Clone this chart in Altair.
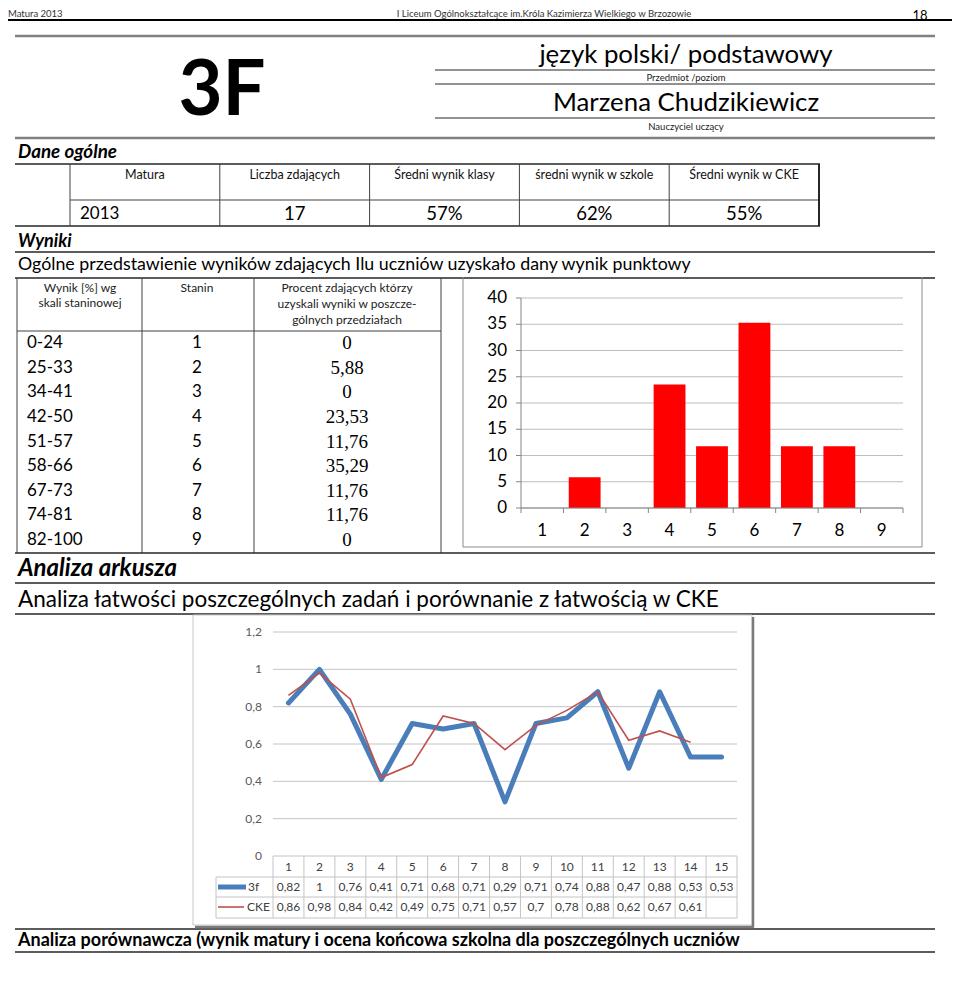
import altair as alt
import pandas as pd

# ---------------------------------------------------------------- canvas
W, H = 944, 972          # drawing area (page is 960 wide, 8px body margin)
OX, OY = 8, 8


def px(v):
    return v - OX


def py(v):
    return v - OY


FONT = "Lato"
SERIF = "Liberation Serif"

# ---------------------------------------------------------------- data
summary_headers = ["Matura", "Liczba zdających", "Średni wynik klasy",
                   "średni wynik w szkole", "Średni wynik w CKE"]
summary_values = ["2013", "17", "57%", "62%", "55%"]

stanine_ranges = ["0-24", "25-33", "34-41", "42-50", "51-57",
                  "58-66", "67-73", "74-81", "82-100"]
stanines = [1, 2, 3, 4, 5, 6, 7, 8, 9]
stanine_percent = [0, 5.88, 0, 23.53, 11.76, 35.29, 11.76, 11.76, 0]
bar_y_ticks = [0, 5, 10, 15, 20, 25, 30, 35, 40]

tasks = [1, 2, 3, 4, 5, 6, 7, 8, 9, 10, 11, 12, 13, 14, 15]
easiness_3f = [0.82, 1, 0.76, 0.41, 0.71, 0.68, 0.71, 0.29, 0.71, 0.74,
               0.88, 0.47, 0.88, 0.53, 0.53]
easiness_cke = [0.86, 0.98, 0.84, 0.42, 0.49, 0.75, 0.71, 0.57, 0.7, 0.78,
                0.88, 0.62, 0.67, 0.61, None]
line_y_ticks = [0, 0.2, 0.4, 0.6, 0.8, 1.0, 1.2]


def pl(v):
    """Polish decimal notation."""
    return f"{v:g}".replace(".", ",")


# ---------------------------------------------------------------- helpers
def segs_layer(rows):
    df = pd.DataFrame(rows, columns=["x", "x2", "y", "y2", "color", "w"])
    for c in ["x", "x2"]:
        df[c] = df[c].map(px)
    for c in ["y", "y2"]:
        df[c] = df[c].map(py)
    return alt.Chart(df).mark_rule().encode(
        x=alt.X("x:Q", scale=None, axis=None), x2="x2:Q",
        y=alt.Y("y:Q", scale=None, axis=None), y2="y2:Q",
        color=alt.Color("color:N", scale=None, legend=None),
        strokeWidth=alt.StrokeWidth("w:Q", scale=None, legend=None),
    )


def text_layer(rows, font=FONT, weight="normal", style="normal", align="left"):
    df = pd.DataFrame(rows, columns=["text", "x", "y", "size", "color"])
    df["x"] = df["x"].map(px)
    df["y"] = df["y"].map(py)
    return alt.Chart(df).mark_text(
        font=font, fontWeight=weight, fontStyle=style, align=align, baseline="middle"
    ).encode(
        x=alt.X("x:Q", scale=None, axis=None),
        y=alt.Y("y:Q", scale=None, axis=None),
        text="text:N",
        size=alt.Size("size:Q", scale=None, legend=None),
        color=alt.Color("color:N", scale=None, legend=None),
    )


layers = []

# ---------------------------------------------------------------- page rules
D, G = "#262626", "#808080"
page_segs = [
    (0, 960, 20, 20, "#000000", 2),
    (15, 935, 36, 36, G, 2.5),
    (435, 935, 70, 70, D, 1.2),
    (435, 935, 84, 84, D, 1.2),
    (435, 935, 118, 118, D, 1.2),
    (15, 935, 138, 138, G, 2.5),
    (15, 820, 164, 164, D, 1.5),
    (70, 819, 200, 200, "#404040", 1),
    (15, 820, 226, 226, D, 1.5),
    (70, 70, 164, 226, "#404040", 1),
    (819, 819, 164, 226, D, 2),
    (15, 935, 252, 252, D, 1.5),
    (15, 935, 278, 278, D, 1.5),
    (17, 17, 278, 553, "#404040", 1),
    (142, 142, 278, 553, "#404040", 1),
    (254, 254, 278, 553, "#404040", 1),
    (441, 441, 278, 553, "#404040", 1),
    (17, 441, 331, 331, "#404040", 1),
    (463, 463, 277, 547, "#8c8c8c", 1),
    (463, 922, 547, 547, "#8c8c8c", 1),
    (922, 922, 277, 547, "#8c8c8c", 1),
    (15, 935, 553, 553, D, 1.5),
    (15, 935, 583, 583, D, 1.5),
    (15, 935, 614, 614, D, 1.5),
    (15, 935, 929, 929, D, 1.5),
    (15, 935, 952, 952, D, 1.5),
]
layers.append(segs_layer(page_segs))

# summary table column separators through a band scale over the headers
sum_x = alt.Scale(type="band", domain=summary_headers, range=[px(70), px(819)],
                  paddingInner=0, paddingOuter=0)
layers.append(
    alt.Chart(pd.DataFrame({"h": summary_headers[1:]})).mark_rule(color="#404040").encode(
        x=alt.X("h:N", scale=sum_x, axis=None, bandPosition=0),
        y=alt.value(py(164)), y2=alt.value(py(226)),
    )
)
layers.append(
    alt.Chart(pd.DataFrame({"h": summary_headers})).mark_text(
        font=FONT, fontSize=12.5, baseline="middle", color="#111"
    ).encode(
        x=alt.X("h:N", scale=sum_x, axis=None, bandPosition=0.5),
        y=alt.value(py(175)), text="h:N",
    )
)
layers.append(
    alt.Chart(pd.DataFrame({"h": summary_headers[1:], "v": summary_values[1:]})).mark_text(
        font=FONT, fontSize=18.5, baseline="middle", color="#000"
    ).encode(
        x=alt.X("h:N", scale=sum_x, axis=None, bandPosition=0.5),
        y=alt.value(py(214)), text="v:N",
    )
)
layers.append(
    alt.Chart(pd.DataFrame({"v": summary_values[:1]})).mark_text(
        font=FONT, fontSize=17, baseline="middle", align="left", color="#000"
    ).encode(x=alt.value(px(80)), y=alt.value(py(214)), text="v:N")
)

# ---------------------------------------------------------------- static texts
layers.append(text_layer([
    ("Matura 2013", 8, 14, 9.5, "#333333"),
    ("Ogólne przedstawienie wyników zdających Ilu uczniów uzyskało dany wynik punktowy",
     18, 265, 17.8, "#000000"),
    ("Analiza łatwości poszczególnych zadań i porównanie z łatwością w CKE",
     18, 600, 22.5, "#000000"),
]))
layers.append(text_layer([
    ("I Liceum Ogólnokształcące im.Króla Kazimierza Wielkiego w Brzozowie", 544, 14, 9.5, "#333333"),
    ("18", 920, 15.5, 13, "#000000"),
    ("język polski/ podstawowy", 686, 55, 25.8, "#000000"),
    ("Przedmiot /poziom", 686, 78, 9.5, "#222222"),
    ("Marzena Chudzikiewicz", 686, 103, 25.8, "#000000"),
    ("Nauczyciel uczący", 686, 127, 9.5, "#222222"),
    ("Wynik  [%] wg", 80, 288, 12, "#222222"),
    ("skali staninowej", 80, 303, 12, "#222222"),
    ("Stanin", 197, 288, 12, "#222222"),
    ("Procent zdających którzy", 347, 288, 12, "#222222"),
    ("uzyskali wyniki w poszcze-", 347, 304, 12, "#222222"),
    ("gólnych przedziałach", 347, 320, 12, "#222222"),
], align="center"))
layers.append(text_layer([("3F", 222, 92, 76, "#000000")], weight="bold", align="center"))
layers.append(text_layer([
    ("Dane ogólne", 18, 152, 18.8, "#000000"),
    ("Wyniki", 18, 242, 18, "#000000"),
    ("Analiza arkusza", 18, 569, 24, "#000000"),
], weight="bold", style="italic"))
layers.append(text_layer([
    ("Analiza porównawcza (wynik matury i ocena końcowa szkolna dla poszczególnych uczniów",
     18, 941, 18, "#000000"),
], weight="bold"))

# ---------------------------------------------------------------- stanine table
df_stan = pd.DataFrame({
    "range": stanine_ranges,
    "stanin": stanines,
    "percent": stanine_percent,
    "label": [pl(v) for v in stanine_percent],
})
row_y = alt.Scale(type="band", domain=stanine_ranges, range=[py(331), py(552)],
                  paddingInner=0, paddingOuter=0)
row_enc = alt.Y("range:N", scale=row_y, axis=None, bandPosition=0.5)
layers.append(alt.Chart(df_stan).mark_text(font=FONT, fontSize=17, align="left",
                                           baseline="middle", color="#000")
              .encode(x=alt.value(px(27)), y=row_enc, text="range:N"))
layers.append(alt.Chart(df_stan).mark_text(font=FONT, fontSize=17, align="center",
                                           baseline="middle", color="#000")
              .encode(x=alt.value(px(197)), y=row_enc, text="stanin:N"))
layers.append(alt.Chart(df_stan).mark_text(font=SERIF, fontSize=19, align="center",
                                           baseline="middle", color="#000")
              .encode(x=alt.value(px(347)), y=row_enc, text="label:N"))

# ---------------------------------------------------------------- bar chart
bar_x = alt.Scale(type="band", domain=stanines, range=[px(521), px(903)],
                  paddingInner=0.25, paddingOuter=0.125)
bar_xq = alt.Scale(domain=[0.5, 9.5], range=[px(521), px(903)], zero=False, nice=False)
bar_y = alt.Scale(domain=[0, 40], range=[py(508), py(298)], zero=True, nice=False)
df_bticks = pd.DataFrame({"v": bar_y_ticks})
df_bbound = pd.DataFrame({"b": [s - 0.5 for s in stanines] + [stanines[-1] + 0.5]})
AX = "#868686"

layers.append(alt.Chart(df_bticks).mark_rule(color="#bdbdbd", strokeWidth=1).encode(
    y=alt.Y("v:Q", scale=bar_y, axis=None), x=alt.value(px(521)), x2=alt.value(px(903))))
layers.append(alt.Chart(df_bticks).mark_rule(color=AX).encode(
    y=alt.Y("v:Q", scale=bar_y, axis=None), x=alt.value(px(516)), x2=alt.value(px(521))))
layers.append(alt.Chart(df_bticks).mark_text(font=FONT, fontSize=17, align="right",
                                             baseline="middle", color="#000").encode(
    y=alt.Y("v:Q", scale=bar_y, axis=None), x=alt.value(px(507)), text="v:Q"))
layers.append(alt.Chart(df_stan).mark_bar(color="#ff0000").encode(
    x=alt.X("stanin:O", scale=bar_x, axis=None),
    y=alt.Y("percent:Q", scale=bar_y, axis=None)))
layers.append(alt.Chart(df_bbound).mark_rule(color=AX).encode(
    x=alt.X("b:Q", scale=bar_xq, axis=None), y=alt.value(py(508)), y2=alt.value(py(513))))
layers.append(alt.Chart(df_bticks).mark_rule(color=AX).transform_filter("datum.v == 0").encode(
    y=alt.Y("v:Q", scale=bar_y, axis=None), x=alt.value(px(521)), x2=alt.value(px(903))))
layers.append(segs_layer([(521, 521, 298, 508, AX, 1)]))
layers.append(alt.Chart(df_stan).mark_text(font=FONT, fontSize=17, baseline="middle",
                                           color="#000").encode(
    x=alt.X("stanin:O", scale=bar_x, axis=None, bandPosition=0.5),
    y=alt.value(py(531)), text="stanin:N"))

# ---------------------------------------------------------------- line chart (pasted picture)
lx = alt.Scale(domain=[0.5, 15.5], range=[px(273), px(737)], zero=False, nice=False)
ly = alt.Scale(domain=[0, 1.2], range=[py(856), py(632)], zero=True, nice=False)
TXT = "#404040"
GRID = "#c4c4c4"

layers.append(alt.Chart(pd.DataFrame({"a": [0]})).mark_rect(
    fill="white", stroke="#c8c8c8", strokeWidth=1).encode(
    x=alt.value(px(193)), x2=alt.value(px(752)), y=alt.value(py(615)), y2=alt.value(py(925))))
layers.append(segs_layer([
    (753, 753, 617, 927, "#7a7a7a", 2.5),
    (195, 754, 927, 927, "#7a7a7a", 2.5),
]))

df_lt = pd.DataFrame({"v": line_y_ticks, "lab": [pl(v) for v in line_y_ticks]})
layers.append(alt.Chart(df_lt).mark_rule(color=GRID).transform_filter("datum.v > 0").encode(
    y=alt.Y("v:Q", scale=ly, axis=None), x=alt.value(px(273)), x2=alt.value(px(737))))
layers.append(alt.Chart(df_lt).mark_text(font=FONT, fontSize=12, align="right",
                                         baseline="middle", color="#595959").encode(
    y=alt.Y("v:Q", scale=ly, axis=None), x=alt.value(px(262)), text="lab:N"))

# data table under the line chart
layers.append(segs_layer([
    (273, 737, 856, 856, GRID, 1),
    (216, 737, 877, 877, GRID, 1),
    (216, 737, 897, 897, GRID, 1),
    (216, 737, 918, 918, GRID, 1),
    (216, 216, 877, 918, GRID, 1),
]))
df_lbound = pd.DataFrame({"b": [t - 0.5 for t in tasks] + [tasks[-1] + 0.5]})
layers.append(alt.Chart(df_lbound).mark_rule(color=GRID).encode(
    x=alt.X("b:Q", scale=lx, axis=None), y=alt.value(py(856)), y2=alt.value(py(918))))

df_line = pd.DataFrame({
    "task": tasks,
    "f3": easiness_3f,
    "cke": easiness_cke,
    "f3_lab": [pl(v) for v in easiness_3f],
    "cke_lab": ["" if v is None else pl(v) for v in easiness_cke],
})
for field, yy in [("task", 867), ("f3_lab", 887), ("cke_lab", 907)]:
    layers.append(alt.Chart(df_line).mark_text(font=FONT, fontSize=12, baseline="middle",
                                               color=TXT).encode(
        x=alt.X("task:Q", scale=lx, axis=None), y=alt.value(py(yy)), text=f"{field}:N"))

# legend keys
layers.append(segs_layer([
    (218, 246, 887, 887, "#4a7ebb", 5),
    (218, 244, 907, 907, "#c0504d", 1.6),
]))
layers.append(text_layer([
    ("3f", 248, 887, 12, TXT),
    ("CKE", 247, 907, 12, TXT),
]))

# series
layers.append(alt.Chart(df_line).mark_line(color="#4a7ebb", strokeWidth=5,
                                           strokeJoin="round", strokeCap="round").encode(
    x=alt.X("task:Q", scale=lx, axis=None), y=alt.Y("f3:Q", scale=ly, axis=None)))
layers.append(alt.Chart(df_line).mark_line(color="#c0504d", strokeWidth=1.6).encode(
    x=alt.X("task:Q", scale=lx, axis=None), y=alt.Y("cke:Q", scale=ly, axis=None)))

# ---------------------------------------------------------------- compose
chart = alt.layer(*layers).resolve_scale(
    x="independent", y="independent", color="independent", size="independent",
    strokeWidth="independent",
).properties(
    width=W, height=H, padding=0, background="white",
    autosize=alt.AutoSizeParams(type="none"),
).configure_view(stroke=None)

chart.save("out.html", embed_options={"renderer": "svg", "actions": False})
